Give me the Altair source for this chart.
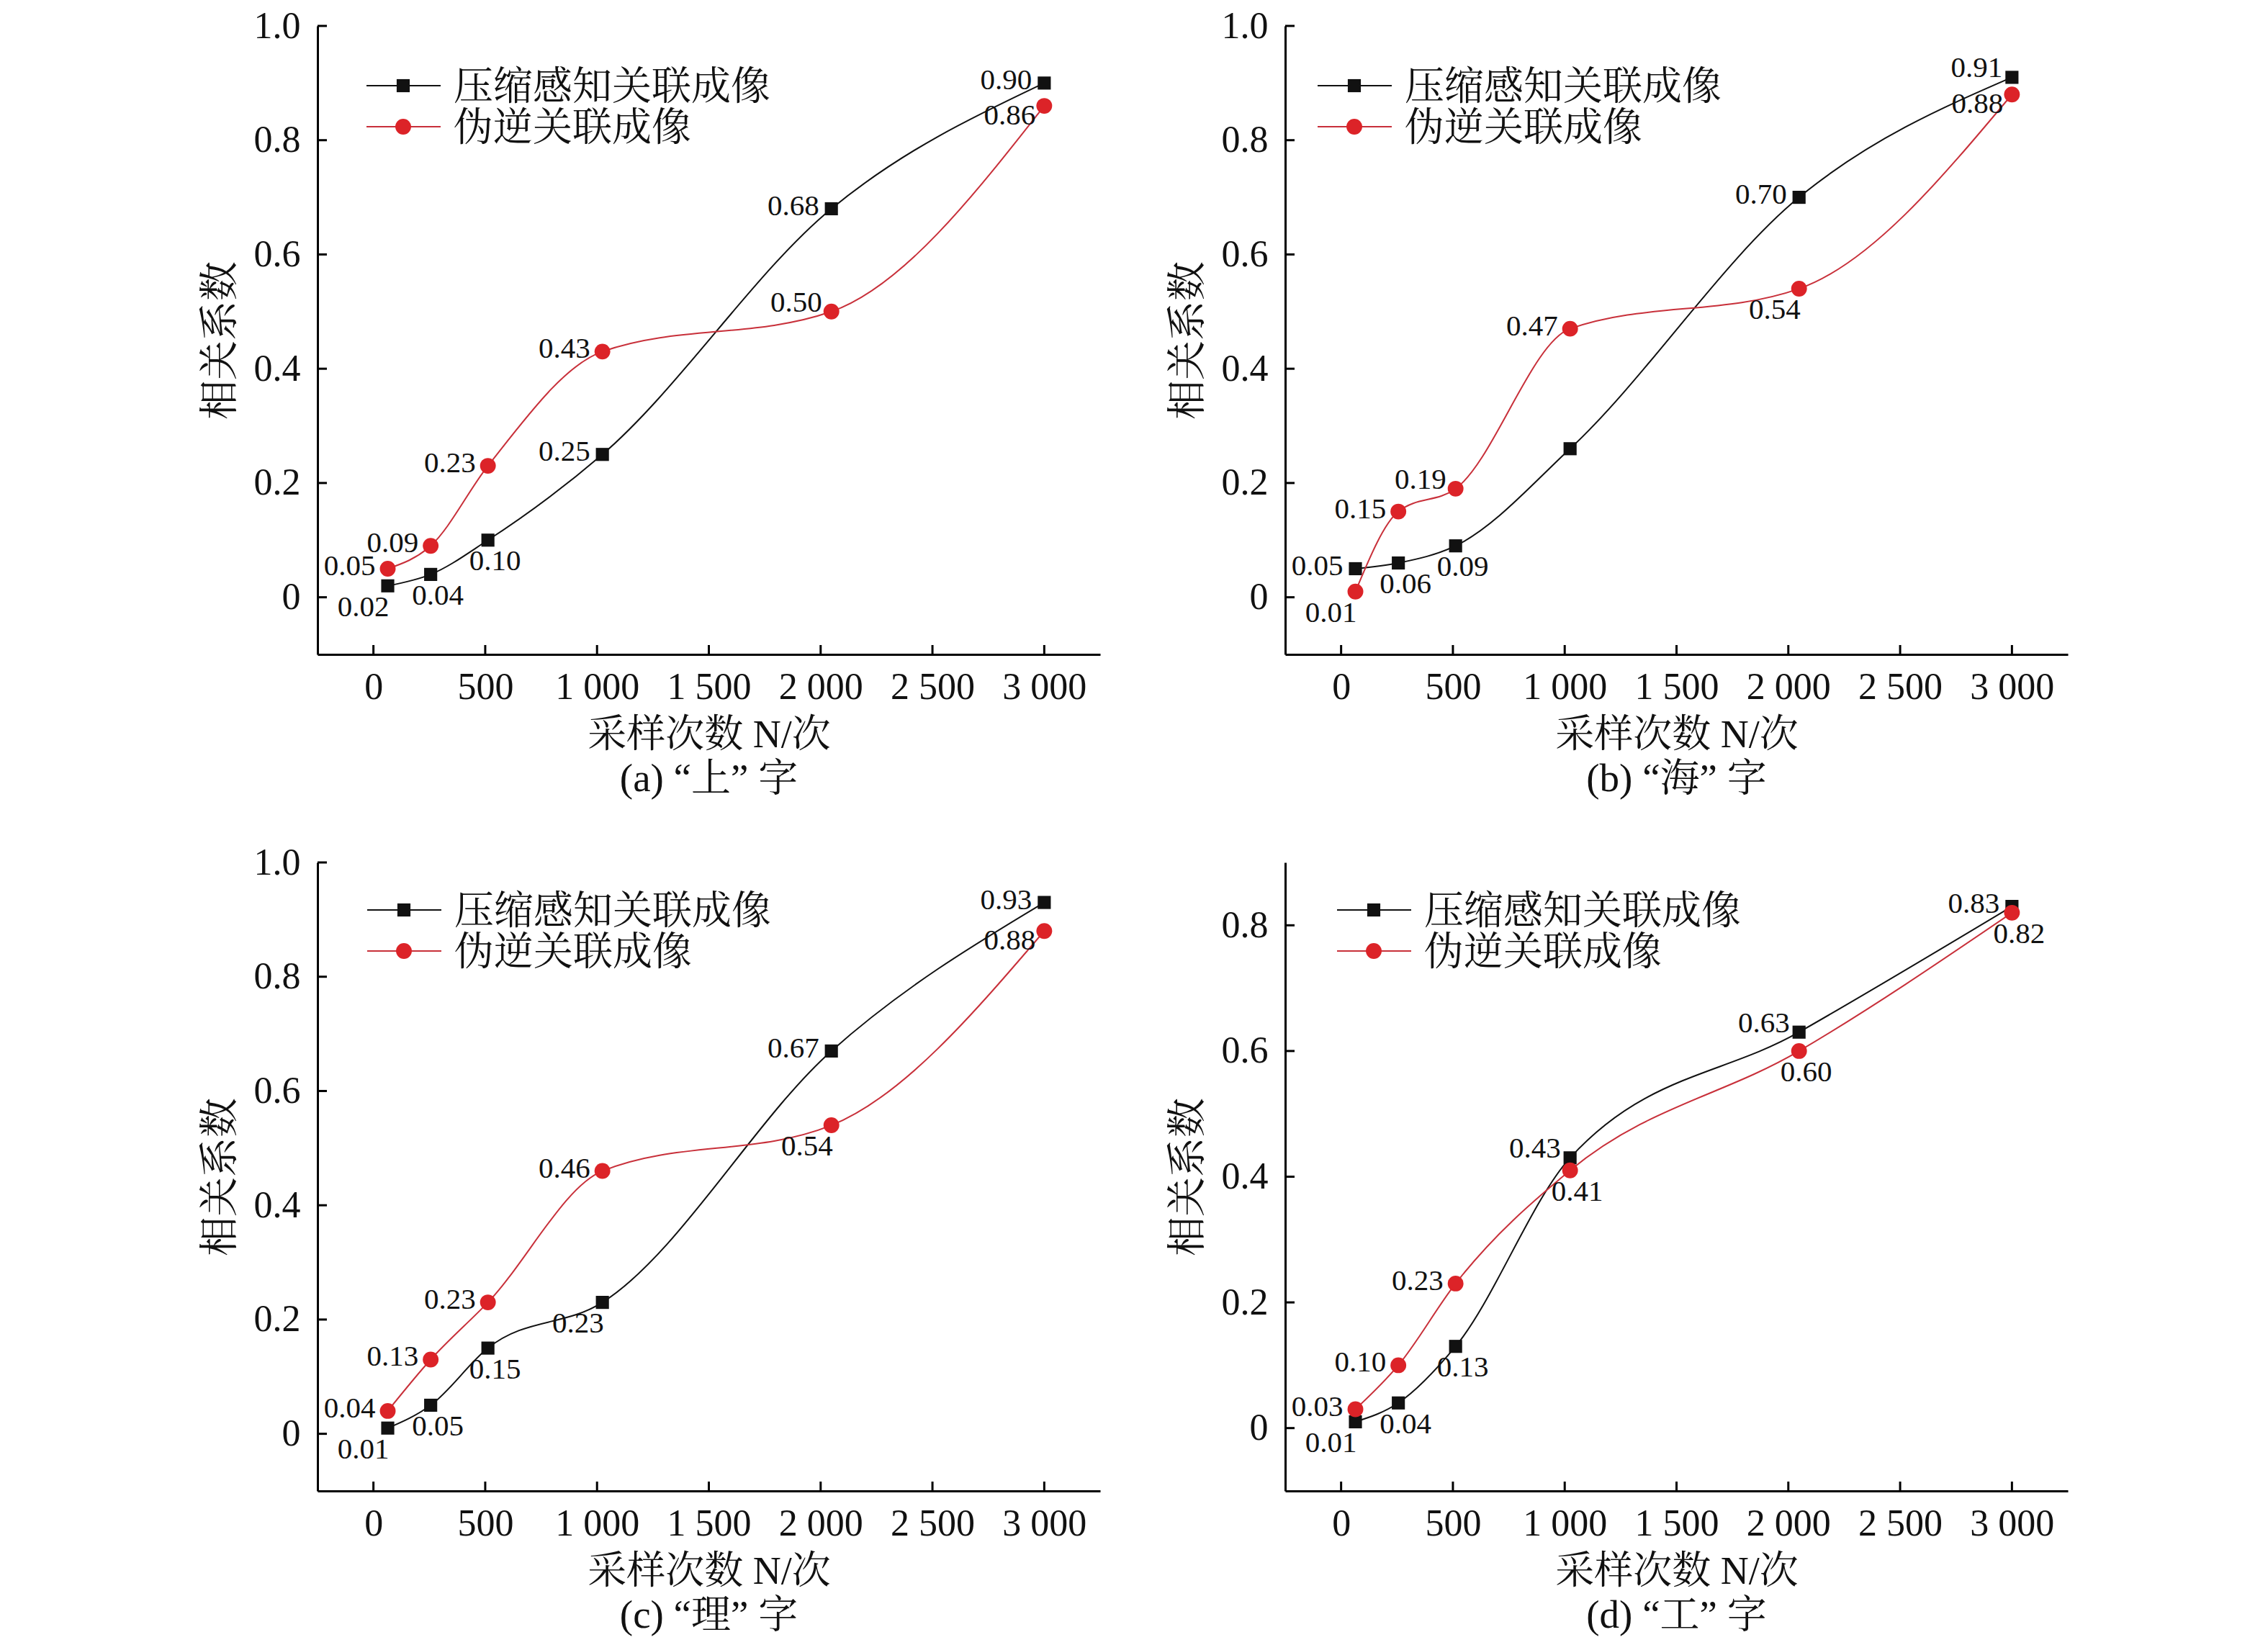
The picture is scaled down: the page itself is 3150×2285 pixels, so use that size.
import altair as alt
import pandas as pd

# ---------------- data ----------------
N_VALUES = [64, 256, 512, 1024, 2048, 3000]
SERIES = ["压缩感知关联成像", "伪逆关联成像"]

A_CS = [0.02, 0.04, 0.10, 0.25, 0.68, 0.90]
A_PI = [0.05, 0.09, 0.23, 0.43, 0.50, 0.86]
B_CS = [0.05, 0.06, 0.09, 0.26, 0.70, 0.91]
B_PI = [0.01, 0.15, 0.19, 0.47, 0.54, 0.88]
C_CS = [0.01, 0.05, 0.15, 0.23, 0.67, 0.93]
C_PI = [0.04, 0.13, 0.23, 0.46, 0.54, 0.88]
D_CS = [0.01, 0.04, 0.13, 0.43, 0.63, 0.83]
D_PI = [0.03, 0.10, 0.23, 0.41, 0.60, 0.82]

X_TICKS = [0, 500, 1000, 1500, 2000, 2500, 3000]
Y_TICKS_1 = [0, 0.2, 0.4, 0.6, 0.8, 1.0]
Y_TICKS_D = [0, 0.2, 0.4, 0.6, 0.8]

CAPTIONS = ["(a) “上” 字", "(b) “海” 字", "(c) “理” 字", "(d) “工” 字"]
X_TITLE = "采样次数 N/次"
Y_TITLE = "相关系数"

# label placement codes per point (style, not data)
A_CS_POS = ["LB", "B", "B", "L", "L", "L"]
A_PI_POS = ["L", "L", "L", "L", "LU", "LD"]
B_CS_POS = ["L", "B", "B", "N", "L", "LU"]
B_PI_POS = ["LB", "L", "LU", "L", "LB", "LD"]
C_CS_POS = ["LB", "B", "B", "LB", "L", "L"]
C_PI_POS = ["L", "L", "L", "L", "LB", "LD"]
D_CS_POS = ["LB", "B", "B", "LU", "LU", "L"]
D_PI_POS = ["L", "L", "L", "B", "B", "B"]

PLACEMENT = {
    "L": ("right", -17, -3),
    "LU": ("right", -13, -12),
    "LD": ("right", -12, 14),
    "B": ("center", 10, 30),
    "LB": ("right", 2, 30),
}

# ---------------- style ----------------
FONT = "Liberation Serif, 'Noto Serif CJK SC', 'Noto Sans CJK SC', serif"
BLACK = "#111111"
RED_LINE = "#c8303a"
RED_PT = "#dc2328"
W, H = 1087, 873


def panel(cs, pi, cs_pos, pi_pos, ydomain, yticks, caption, leg_x, leg_y):
    rows = []
    for s, vals, pos in [(SERIES[0], cs, cs_pos), (SERIES[1], pi, pi_pos)]:
        for n, v, p in zip(N_VALUES, vals, pos):
            rows.append({"N": n, "value": v, "series": s, "pos": p})
    df = pd.DataFrame(rows)

    x_enc = alt.X(
        "N:Q",
        scale=alt.Scale(domain=[-250, 3250], nice=False, zero=False),
        axis=alt.Axis(
            values=X_TICKS,
            labelExpr="replace(format(datum.value, ','), ',', ' ')",
            ticks=False,
            grid=False,
            domainColor="#000",
            domainWidth=3,
            labelFont=FONT,
            labelFontSize=52,
            labelColor="#111",
            labelPadding=20,
            title=X_TITLE,
            titleFont=FONT,
            titleFontSize=54,
            titleFontWeight="normal",
            titleColor="#111",
            titlePadding=14,
        ),
    )
    y_enc = alt.Y(
        "value:Q",
        scale=alt.Scale(domain=ydomain, nice=False, zero=False),
        axis=alt.Axis(
            values=yticks,
            labelExpr="datum.value == 0 ? '0' : format(datum.value, '.1f')",
            ticks=False,
            grid=False,
            domainColor="#000",
            domainWidth=3,
            labelFont=FONT,
            labelFontSize=52,
            labelColor="#111",
            labelPadding=24,
            title=Y_TITLE,
            titleFont=FONT,
            titleFontSize=55,
            titleFontWeight="normal",
            titleColor="#111",
            titlePadding=18,
        ),
    )
    color_scale = alt.Scale(domain=SERIES, range=[BLACK, RED_LINE])

    base = alt.Chart(df)
    layers = []
    # inward ticks
    xt = pd.DataFrame({"N": X_TICKS})
    yt = pd.DataFrame({"value": yticks})
    layers.append(
        alt.Chart(xt).mark_rule(color="#000", strokeWidth=3).encode(
            x=x_enc, y=alt.value(H), y2=alt.value(H - 13)
        )
    )
    layers.append(
        alt.Chart(yt).mark_rule(color="#000", strokeWidth=3).encode(
            y=y_enc, x=alt.value(0), x2=alt.value(13)
        )
    )
    for s, col, shape, size in [
        (SERIES[0], BLACK, "square", 330),
        (SERIES[1], RED_PT, "circle", 480),
    ]:
        sub = base.transform_filter(alt.datum.series == s)
        layers.append(
            sub.mark_line(interpolate="monotone", strokeWidth=2).encode(
                x=x_enc,
                y=y_enc,
                color=alt.Color("series:N", scale=color_scale, legend=None),
            )
        )
        layers.append(
            sub.mark_point(shape=shape, filled=True, size=size, opacity=1, color=col).encode(
                x=x_enc, y=y_enc
            )
        )
    # value labels
    for code, (align, dx, dy) in PLACEMENT.items():
        layers.append(
            base.transform_filter(alt.datum.pos == code)
            .mark_text(
                align=align, baseline="middle", dx=dx, dy=dy,
                font=FONT, fontSize=41, color="#111",
            )
            .encode(x=x_enc, y=y_enc, text=alt.Text("value:Q", format=".2f"))
        )
    # legend (drawn inside the plot, top-left)
    for i, (s, col, shape, size) in enumerate(
        [(SERIES[0], BLACK, "square", 330), (SERIES[1], RED_PT, "circle", 480)]
    ):
        ld = pd.DataFrame({"label": [s]})
        yy = leg_y + i * 57
        lc = BLACK if i == 0 else RED_LINE
        layers.append(
            alt.Chart(ld).mark_rule(color=lc, strokeWidth=2).encode(
                x=alt.value(leg_x), x2=alt.value(leg_x + 103), y=alt.value(yy)
            )
        )
        layers.append(
            alt.Chart(ld).mark_point(shape=shape, filled=True, size=size, opacity=1, color=col).encode(
                x=alt.value(leg_x + 51), y=alt.value(yy)
            )
        )
        layers.append(
            alt.Chart(ld).mark_text(
                align="left", baseline="middle", font=FONT, fontSize=55, color="#111"
            ).encode(x=alt.value(leg_x + 121), y=alt.value(yy + 2), text="label:N")
        )

    return alt.layer(*layers).properties(
        width=W,
        height=H,
        title=alt.TitleParams(
            text=caption,
            orient="bottom",
            anchor="middle",
            frame="group",
            font=FONT,
            fontSize=55,
            fontWeight="normal",
            color="#111",
            offset=8,
        ),
    )


pa = panel(A_CS, A_PI, A_CS_POS, A_PI_POS, [-0.1, 1.0], Y_TICKS_1, CAPTIONS[0], 68, 83)
pb = panel(B_CS, B_PI, B_CS_POS, B_PI_POS, [-0.1, 1.0], Y_TICKS_1, CAPTIONS[1], 45, 83)
pc = panel(C_CS, C_PI, C_CS_POS, C_PI_POS, [-0.1, 1.0], Y_TICKS_1, CAPTIONS[2], 69, 66)
pd_ = panel(D_CS, D_PI, D_CS_POS, D_PI_POS, [-0.1, 0.9], Y_TICKS_D, CAPTIONS[3], 72, 66)

chart = (
    alt.vconcat(
        alt.hconcat(pa, pb, spacing=94),
        alt.hconcat(pc, pd_, spacing=94),
        spacing=62,
    )
    .properties(padding={"left": 270, "top": 2, "right": 20, "bottom": 10}, background="white")
    .configure_view(stroke=None)
)

chart.save("out.html", embed_options={"renderer": "svg", "actions": False})
